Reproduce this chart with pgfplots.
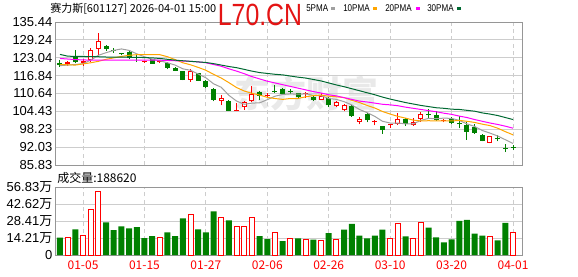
\documentclass[border=0pt]{standalone}
\usepackage{pgfplots}
\usepackage{pgfplotstable}
\pgfplotsset{compat=1.18}
\usepackage{fontspec}
\setmainfont{Liberation Sans}
\newfontfamily\cjk{Noto Sans CJK SC}
\definecolor{kred}{RGB}{255,0,0}
\definecolor{kgreen}{RGB}{0,128,0}
\definecolor{mafive}{RGB}{160,160,160}
\definecolor{maten}{RGB}{255,165,0}
\definecolor{matwenty}{RGB}{255,0,255}
\definecolor{mathirty}{RGB}{0,105,50}
\definecolor{gridgray}{RGB}{205,205,205}
\definecolor{framegray}{RGB}{150,150,150}
\definecolor{wmgray}{RGB}{233,233,233}
\definecolor{titlered}{RGB}{228,20,20}

\pgfplotstableread{
i o h l c
1 120.8 121.9 120.2 121.5
3 121.1 122.5 120.2 121.8
4 122.3 126.3 121.7 125.7
5 126.0 131.7 124.0 128.9
11 121.5 121.9 121.3 121.6
13 121.4 122.0 121.2 121.6
17 115.4 119.2 114.8 118.3
21 108.0 110.0 106.5 109.1
23 104.6 107.3 104.5 104.7
24 105.9 108.2 105.0 107.6
25 107.9 113.1 107.7 110.5
27 109.8 110.8 109.1 109.9
32 110.4 111.0 109.1 110.6
34 108.5 110.8 108.3 109.9
36 106.3 108.0 105.9 107.6
37 104.8 107.0 104.4 106.5
39 100.8 102.6 99.9 101.9
41 100.7 101.5 99.6 100.9
43 99.6 100.2 98.7 99.8
44 100.2 104.0 99.8 101.9
46 99.8 102.3 99.4 100.8
47 101.7 104.2 100.8 103.6
50 101.2 101.7 100.6 101.4
56 93.6 96.0 93.3 95.8
}\upK

\pgfplotstableread{
i o h l c
0 120.8 122.4 119.9 120.7
2 123.5 125.7 121.2 121.4
6 127.1 127.5 125.5 126.2
7 125.7 126.4 124.8 125.5
8 124.4 124.8 123.9 124.2
9 125.2 125.6 122.6 123.0
10 123.0 124.0 121.5 122.9
12 122.5 122.7 120.9 121.0
14 121.2 121.5 119.0 119.5
15 119.6 120.0 118.4 118.6
16 118.4 118.6 115.2 115.4
18 117.6 117.9 114.9 115.1
19 115.0 115.3 112.5 112.9
20 112.3 112.5 107.9 108.5
22 108.2 108.4 104.5 104.6
26 111.1 111.6 108.5 109.7
28 111.1 113.6 110.9 111.0
29 112.3 112.7 110.3 110.5
30 111.5 112.2 110.5 111.3
31 110.8 110.9 108.8 109.3
33 109.4 109.6 108.1 108.3
35 109.1 109.4 106.0 106.5
38 106.3 106.8 102.5 102.8
40 103.4 104.0 100.6 101.4
42 99.2 99.4 96.6 97.9
45 101.7 102.3 99.4 100.2
48 103.5 105.3 102.3 103.3
49 103.1 104.5 101.1 101.5
51 101.7 102.6 100.0 100.4
52 100.1 102.8 98.5 99.9
53 99.7 100.6 94.6 97.4
54 98.9 100.0 96.6 97.0
55 96.2 96.6 94.0 94.3
57 95.0 96.2 94.0 94.8
58 91.6 93.0 90.3 91.4
59 92.0 92.6 91.0 91.8
}\downK

\pgfplotstableread{
i m5 m10 m20 m30
0 120.3 120.7 122.8 124.2
1 120.5 120.6 122.6 123.6
2 120.7 120.5 122.4 123.5
3 121.0 120.9 122.3 123.5
4 122.2 121.3 122.2 123.4
5 123.9 121.8 122.2 123.4
6 124.8 122.5 122.2 123.3
7 125.6 123.0 122.2 123.3
8 126.1 123.5 122.2 123.3
9 125.6 123.9 122.2 123.2
10 124.4 124.1 122.2 123.2
11 123.4 124.1 122.2 123.1
12 122.5 124.1 122.2 123.0
13 122.0 124.1 122.2 122.8
14 121.3 123.4 122.1 122.5
15 120.5 122.4 122.0 122.2
16 119.2 121.3 121.9 122.0
17 118.7 120.6 121.8 121.8
18 117.4 119.7 121.6 121.6
19 116.1 118.7 121.3 121.4
20 114.0 117.3 120.7 121.0
21 112.8 116.0 120.1 120.5
22 110.0 114.4 119.2 120.0
23 108.0 112.7 118.4 119.6
24 106.9 111.5 117.5 119.0
25 107.3 110.7 116.5 118.4
26 107.4 110.1 115.7 117.9
27 108.5 109.3 114.9 117.6
28 109.7 108.9 114.3 117.3
29 110.3 108.6 113.7 117.1
30 110.5 108.9 113.1 116.7
31 110.4 108.9 112.5 116.3
32 110.5 109.5 111.9 116.0
33 110.0 109.9 111.3 115.5
34 109.9 110.1 110.8 115.0
35 108.9 109.7 110.2 114.3
36 108.6 109.5 109.8 113.6
37 107.8 109.2 109.2 113.0
38 106.7 108.3 108.6 112.3
39 105.1 107.5 108.0 111.6
40 104.0 106.5 107.7 110.9
41 102.7 105.6 107.3 110.2
42 101.0 104.4 106.9 109.4
43 100.4 103.5 106.7 108.7
44 100.4 102.7 106.4 108.1
45 100.1 102.1 105.9 107.5
46 100.1 101.4 105.5 107.0
47 101.3 101.1 105.1 106.5
48 102.0 101.2 104.7 106.1
49 101.9 101.1 104.3 105.7
50 102.1 101.1 103.8 105.5
51 102.0 101.1 103.4 105.2
52 101.3 101.3 102.8 105.1
53 100.1 101.0 102.3 104.8
54 99.2 100.6 101.6 104.5
55 97.8 100.0 101.0 103.9
56 96.9 99.5 100.4 103.5
57 95.9 98.6 99.9 103.0
58 94.6 97.4 99.3 102.3
59 93.3 96.3 98.6 101.6
}\maT

\pgfplotstableread{
i v
1 14.6
3 16.3
4 37.8
5 52.7
13 14.6
17 33.9
21 31.5
23 24.0
24 24.0
25 31.2
28 19.0
30 13.6
32 12.8
34 12.2
36 12.8
43 13.6
44 26.1
46 13.6
47 26.9
56 15.5
59 18.86
}\volR

\pgfplotstableread{
i v
0 14.6
2 21.5
6 27.3
7 20.7
8 24.0
9 22.3
10 23.2
11 14.1
12 15.7
14 19.0
15 15.7
16 30.6
18 21.5
19 19.0
20 36.4
22 29.0
26 15.7
27 13.2
29 11.7
31 13.9
33 12.8
35 18.2
37 21.2
38 26.1
39 16.3
40 13.9
41 16.3
42 21.2
45 15.5
48 22.8
49 14.7
50 10.6
51 13.0
52 28.5
53 29.3
54 17.9
55 16.3
57 12.2
58 26.9
}\volG

\pgfplotsset{
  kbase/.style={
    scale only axis, width=349.5pt,
    xmin=-0.52, xmax=60.17,
    axis line style={draw=framegray, line width=0.75pt},
    major tick length=0pt,
    xtick={3,11,19,27,35,43,51,59},
    xmajorgrids, ymajorgrids,
    major x grid style={draw=gridgray, line width=0.75pt, dash pattern=on 3pt off 2.5pt},
    major y grid style={draw=gridgray, line width=0.75pt},
    yticklabel style={font=\fontsize{9.75}{10}\selectfont, text=black, inner sep=0pt, xshift=-2.6pt},
  },
  wick/.style={draw=none, mark=none, error bars/.cd, y dir=plus, y explicit, error mark=none,
    error bar style={draw=#1, line width=0.75pt}},
  body/.style 2 args={draw=none, mark=none, error bars/.cd, y dir=plus, y explicit, error mark=none,
    error bar style={draw=#1, line width=#2}},
}

\begin{document}
\begin{tikzpicture}
\path[use as bounding box] (0,0) rectangle (433.5pt,207pt);

% watermark
\node[text=wmgray, font=\cjk\bfseries\fontsize{27}{27}\selectfont] at (230pt,137pt) {东方财富};

% price axis
\begin{axis}[kbase,
  at={(42pt,83.25pt)}, anchor=south west, height=107.25pt,
  ymin=85.83, ymax=135.445,
  xticklabels={},
  ytick={85.83,92.03,98.23,104.43,110.64,116.84,123.04,129.24,135.44},
  yticklabels={85.83,92.03,98.23,104.43,110.64,116.84,123.04,129.24,135.44},
]
% green candles
\addplot[wick=kgreen] table[x=i, y=l, y error plus expr={\thisrow{h}-\thisrow{l}}] {\downK};
\addplot[body={kgreen}{3.75pt}] table[x=i, y expr={min(\thisrow{o},\thisrow{c})}, y error plus expr={max(abs(\thisrow{c}-\thisrow{o}),0.35)}] {\downK};
% red candles
\addplot[wick=kred] table[x=i, y=l, y error plus expr={\thisrow{h}-\thisrow{l}}] {\upK};
\addplot[body={kred}{3.75pt}] table[x=i, y expr={min(\thisrow{o},\thisrow{c})}, y error plus expr={max(abs(\thisrow{c}-\thisrow{o}),0.35)}] {\upK};
\addplot[body={white}{2.25pt}] table[x=i, y expr={min(\thisrow{o},\thisrow{c})+0.35}, y error plus expr={max(abs(\thisrow{c}-\thisrow{o})-0.7,0)}] {\upK};
% moving averages
\addplot[mafive, line width=0.75pt, mark=none] table[x=i, y=m5] {\maT};
\addplot[maten, line width=0.75pt, mark=none] table[x=i, y=m10] {\maT};
\addplot[matwenty, line width=0.75pt, mark=none] table[x=i, y=m20] {\maT};
\addplot[mathirty, line width=0.75pt, mark=none] table[x=i, y=m30] {\maT};
\end{axis}

% volume axis
\begin{axis}[kbase,
  at={(42pt,15.75pt)}, anchor=south west, height=51pt,
  ymin=0, ymax=56.835,
  xticklabels={01-05,01-15,01-27,02-06,02-26,03-10,03-20,04-01},
  xticklabel style={font=\cjk\fontsize{9}{9}\selectfont, text=kred, inner sep=0pt, yshift=-4pt},
  ytick={0,14.21,28.41,42.62,56.83},
  yticklabels={0,14.21{\cjk 万},28.41{\cjk 万},42.62{\cjk 万},56.83{\cjk 万}},
]
\addplot[ybar, bar width=4.5pt, bar shift=0pt, fill=kgreen, draw=none] table[x=i, y=v] {\volG};
\addplot[ybar, bar width=3.75pt, bar shift=0pt, fill=white, draw=kred, line width=0.75pt] table[x=i, y=v] {\volR};
\end{axis}

% header
\node[anchor=west, inner sep=0pt, font=\cjk\fontsize{8.25}{9}\selectfont] at (37.5pt,200.6pt) {赛力斯[601127] 2026-04-01 15:00};
\node[inner sep=0pt, text=titlered, font=\fontsize{23}{23}\selectfont] at (195pt,195.5pt) {\scalebox{0.81}[1]{L70.CN}};
\foreach \lx/\sx/\lab/\col in {229.5/248.25/5PMA/mafive, 257.25/279.75/10PMA/maten, 288.75/312/20PMA/matwenty, 320.25/342.75/30PMA/mathirty}{
  \node[anchor=west, inner sep=0pt, font=\fontsize{7.35}{8}\selectfont] at (\lx pt,200.6pt) {\scalebox{0.82}[1]{\lab}};
  \fill[\col] (\sx pt,199.5pt) rectangle ++(3pt,2.4pt);
}
\node[anchor=west, inner sep=0pt, font=\cjk\fontsize{9}{9}\selectfont] at (42.75pt,73.5pt) {成交量:188620};
\end{tikzpicture}
\end{document}
